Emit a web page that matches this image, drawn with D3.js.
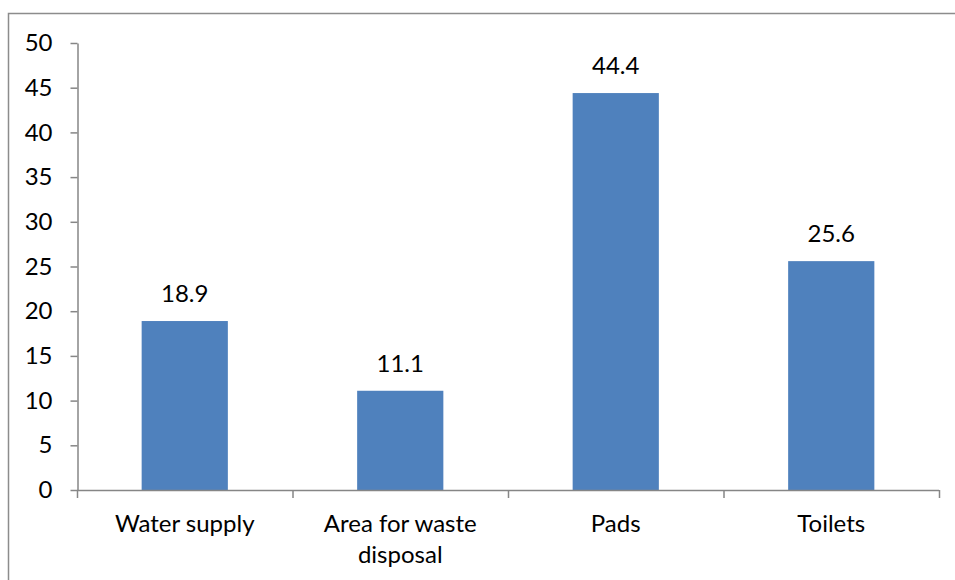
<!DOCTYPE html>
<html>
<head>
<meta charset="utf-8">
<script src="https://cdn.jsdelivr.net/npm/d3@7"></script>
<style>
  html, body { margin: 0; padding: 0; background: #fff; }
  svg { display: block; }
  text { font-family: Lato, "Open Sans", sans-serif; fill: #000; }
</style>
</head>
<body>
<script>
const categories = [["Water supply"], ["Area for waste", "disposal"], ["Pads"], ["Toilets"]];
const values = [18.9, 11.1, 44.4, 25.6];
const yTicks = [0, 5, 10, 15, 20, 25, 30, 35, 40, 45, 50];

const W = 955, H = 580;
const fontSize = 24;
const svg = d3.select("body").append("svg").attr("width", W).attr("height", H);

// outer chart frame (runs off the right and bottom edges)
svg.append("path")
  .attr("d", "M8.5,580 V13.5 H955")
  .attr("fill", "none").attr("stroke", "#8c8c8c").attr("stroke-width", 1.5);

const plot = { left: 77, right: 939, top: 43, bottom: 490 };
const keys = categories.map((c, i) => i);

const x = d3.scaleBand().domain(keys).range([plot.left, plot.right]).paddingInner(0.6).paddingOuter(0.3);
const y = d3.scaleLinear().domain([0, 50]).range([plot.bottom, plot.top]);

const axisColor = "#868686";

// y axis
const yAxis = svg.append("g").attr("transform", `translate(${plot.left + 0.5},0)`)
  .call(d3.axisLeft(y).tickValues(yTicks).tickSize(7).tickPadding(18).tickSizeOuter(0));
yAxis.select(".domain").attr("stroke", axisColor).attr("stroke-width", 1.5);
yAxis.selectAll(".tick line").attr("stroke", axisColor).attr("stroke-width", 1.5);
yAxis.selectAll(".tick text").attr("font-size", fontSize).attr("font-family", "Lato, sans-serif").attr("fill", "#000");

// bars
svg.selectAll("rect.bar").data(values).enter().append("rect")
  .attr("class", "bar")
  .attr("x", (d, i) => x(i))
  .attr("width", x.bandwidth())
  .attr("y", d => y(d))
  .attr("height", d => plot.bottom - y(d))
  .attr("fill", "#4f81bd");

// value labels
svg.selectAll("text.val").data(values).enter().append("text")
  .attr("class", "val")
  .attr("x", (d, i) => x(i) + x.bandwidth() / 2)
  .attr("y", d => y(d) - 19)
  .attr("text-anchor", "middle")
  .attr("font-size", fontSize)
  .text(d => d.toFixed(1));

// x axis line with category boundary ticks
const step = (plot.right - plot.left) / categories.length;
const boundaries = d3.range(categories.length + 1).map(i => plot.left + i * step);
svg.append("line")
  .attr("x1", plot.left).attr("x2", plot.right).attr("y1", plot.bottom + 0.5).attr("y2", plot.bottom + 0.5)
  .attr("stroke", axisColor).attr("stroke-width", 1.5);
svg.selectAll("line.xtick").data(boundaries).enter().append("line")
  .attr("class", "xtick")
  .attr("x1", d => d + 0.5).attr("x2", d => d + 0.5)
  .attr("y1", plot.bottom).attr("y2", plot.bottom + 8)
  .attr("stroke", axisColor).attr("stroke-width", 1.5);

// category labels
const catG = svg.selectAll("text.cat").data(categories).enter().append("text")
  .attr("class", "cat")
  .attr("x", (d, i) => x(i) + x.bandwidth() / 2)
  .attr("y", 532)
  .attr("text-anchor", "middle")
  .attr("font-size", fontSize);
catG.selectAll("tspan").data(d => d).enter().append("tspan")
  .attr("x", function () { return d3.select(this.parentNode).attr("x"); })
  .attr("dy", (d, i) => i === 0 ? 0 : 31)
  .text(d => d);
</script>
</body>
</html>
